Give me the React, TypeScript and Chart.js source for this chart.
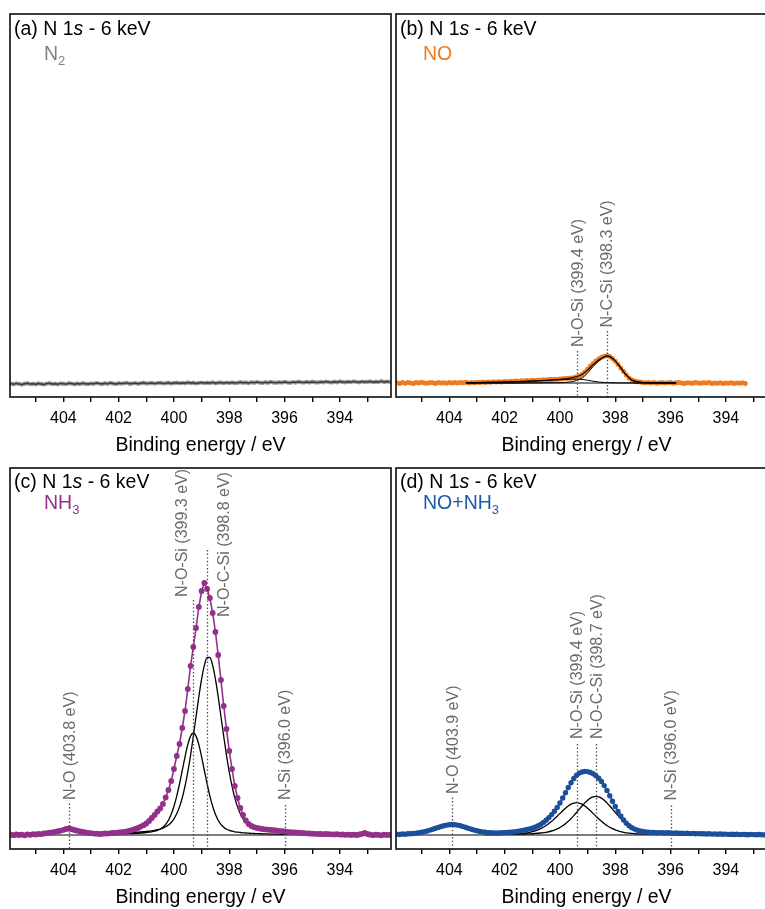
import React, { useEffect, useRef } from 'react';
import { Chart, registerables } from 'chart.js';

Chart.register(...registerables);

const FONT = '"Liberation Sans", Arial, Helvetica, sans-serif';

// ---------------- DATA ----------------
// Binding energies (eV) of the measured spectra (0.1 eV step)
const ENERGY = [
  405.9, 405.8, 405.7, 405.6, 405.5, 405.4, 405.3, 405.2, 405.1, 405.0,
  404.9, 404.8, 404.7, 404.6, 404.5, 404.4, 404.3, 404.2, 404.1, 404.0,
  403.9, 403.8, 403.7, 403.6, 403.5, 403.4, 403.3, 403.2, 403.1, 403.0,
  402.9, 402.8, 402.7, 402.6, 402.5, 402.4, 402.3, 402.2, 402.1, 402.0,
  401.9, 401.8, 401.7, 401.6, 401.5, 401.4, 401.3, 401.2, 401.1, 401.0,
  400.9, 400.8, 400.7, 400.6, 400.5, 400.4, 400.3, 400.2, 400.1, 400.0,
  399.9, 399.8, 399.7, 399.6, 399.5, 399.4, 399.3, 399.2, 399.1, 399.0,
  398.9, 398.8, 398.7, 398.6, 398.5, 398.4, 398.3, 398.2, 398.1, 398.0,
  397.9, 397.8, 397.7, 397.6, 397.5, 397.4, 397.3, 397.2, 397.1, 397.0,
  396.9, 396.8, 396.7, 396.6, 396.5, 396.4, 396.3, 396.2, 396.1, 396.0,
  395.9, 395.8, 395.7, 395.6, 395.5, 395.4, 395.3, 395.2, 395.1, 395.0,
  394.9, 394.8, 394.7, 394.6, 394.5, 394.4, 394.3, 394.2, 394.1, 394.0,
  393.9, 393.8, 393.7, 393.6, 393.5, 393.4, 393.3, 393.2, 393.1, 393.0,
  392.9, 392.8, 392.7, 392.6, 392.5, 392.4, 392.3, 392.2,
];

// Intensities (arb. units)
const N2_INTENSITY = [
  -0.6, -1.2, -0.4, -0.9, -1.5, -0.7, -0.3, -1.1, -0.8, -1.3,
  -0.5, -0.9, -1.4, -0.6, -0.2, -1.0, -0.7, -1.2, -0.4, -0.8,
  -1.1, -0.3, -0.6, -1.3, -0.5, -0.9, -0.2, -0.7, -1.0, -0.4,
  -0.8, -0.1, -0.6, -1.0, -0.3, -0.7, 0.0, -0.5, -0.9, -0.2,
  -0.6, -0.3, 0.1, -0.7, -0.4, -0.1, -0.8, -0.2, 0.2, -0.5,
  -0.3, 0.0, -0.6, -0.1, 0.3, -0.4, -0.2, 0.2, -0.5, 0.0,
  0.3, -0.3, 0.1, -0.2, 0.5, -0.1, 0.2, -0.4, 0.1, 0.4,
  -0.1, 0.3, 0.0, 0.6, -0.2, 0.2, 0.5, -0.1, 0.4, 0.1,
  0.6, 0.0, 0.3, 0.8, 0.2, 0.5, -0.1, 0.7, 0.3, 0.9,
  0.4, 0.1, 0.7, 0.3, 1.0, 0.5, 0.2, 0.8, 0.4, 1.1,
  0.6, 0.3, 0.9, 0.5, 1.2, 0.7, 0.4, 1.0, 0.6, 1.3,
  0.8, 0.5, 1.1, 0.7, 1.4, 0.9, 0.6, 1.2, 0.8, 1.5,
  1.0, 0.7, 1.3, 0.9, 1.6, 1.1, 0.8, 1.4, 1.0, 1.2,
  1.5, 0.9, 1.3, 1.1, 1.7, 1.0, 1.4, 1.2,
];

const NO_INTENSITY = [
  0.3, -0.4, 0.5, -0.2, 0.6, 0.0, -0.5, 0.4, -0.1, 0.7,
  0.1, -0.3, 0.5, 0.2, -0.4, 0.6, 0.0, 0.3, -0.2, 0.5,
  0.1, 0.6, -0.1, 0.4, 0.2, 0.7, 0.1, 0.5, 0.3, 0.8,
  0.4, 0.9, 0.6, 1.0, 0.7, 1.2, 0.9, 1.3, 1.1, 1.6,
  1.3, 1.8, 1.5, 2.0, 1.8, 2.3, 2.0, 2.5, 2.3, 2.7,
  2.6, 3.0, 2.8, 3.3, 3.1, 3.5, 3.4, 3.8, 3.7, 4.1,
  4.2, 4.4, 4.7, 4.9, 5.3, 5.9, 6.9, 8.6, 11.0, 14.0,
  17.0, 19.6, 22.0, 24.1, 25.8, 26.8, 27.2, 26.6, 24.6, 21.8,
  18.4, 14.9, 11.4, 8.0, 5.0, 3.1, 2.0, 1.3, 0.9, 0.6,
  0.3, 0.6, 0.1, 0.4, -0.2, 0.3, 0.5, -0.1, 0.2, 0.4,
  -0.3, 0.2, 0.5, 0.0, -0.4, 0.3, 0.1, -0.2, 0.4, 0.0,
  -0.3, 0.2, -0.1, 0.4, -0.4, 0.1, -0.2, 0.3, -0.5, 0.0,
  -0.2, 0.3, -0.4, 0.1, -0.3, 0.2, -0.5,
];

const NH3_INTENSITY = [
  0.3, -0.2, 0.5, 0.0, 0.4, -0.3, 0.6, 0.2, 0.8, 0.5,
  1.0, 0.9, 1.5, 1.8, 2.3, 2.6, 3.2, 3.8, 4.4, 5.2,
  6.0, 6.5, 5.8, 5.0, 4.3, 3.6, 3.0, 2.6, 2.2, 1.8,
  1.4, 1.3, 1.0, 1.2, 1.5, 1.4, 1.8, 2.0, 2.2, 2.5,
  2.8, 3.2, 3.7, 4.4, 5.2, 6.0, 7.0, 8.4, 9.8, 11.5,
  14, 17, 20, 23.5, 26.5, 31, 37.5, 45, 54, 66,
  79, 91, 107, 124, 146, 169, 188, 207, 228, 244,
  252, 246, 237, 222, 203, 180, 155, 129, 106, 84,
  66, 49, 37, 27, 20, 14.5, 11, 9, 7.8, 7,
  6.5, 6, 5.6, 5.4, 5.1, 4.9, 4.6, 4.2, 3.8, 3.5,
  3.2, 2.9, 2.7, 2.5, 2.3, 2.0, 1.8, 1.7, 1.5, 1.3,
  1.2, 1.1, 1.0, 0.9, 1.0, 0.8, 0.7, 0.6, 0.8, 0.4,
  0.5, 0.2, 0.4, 0.1, 0.3, 0.0, 0.5, 1.2, 2.0, 1.0,
  0.3, -0.2, 0.4, 0.1, -0.3, 0.3, 0.0, 0.2,
];

const NONH3_INTENSITY = [
  0.8, 0.5, 1.0, 0.7, 1.2, 1.3, 1.5, 1.9, 2.2, 2.7,
  3.4, 4.0, 4.9, 5.8, 6.7, 7.6, 8.5, 9.2, 9.9, 10.3,
  10.5, 10.3, 9.9, 9.2, 8.4, 7.5, 6.6, 5.7, 4.9, 4.2,
  3.6, 3.1, 2.7, 2.4, 2.2, 2.1, 2.0, 2.1, 2.2, 2.4,
  2.5, 2.8, 3.0, 3.4, 3.8, 4.3, 4.9, 5.5, 6.1, 6.8,
  7.8, 9.0, 10.5, 12.5, 14.8, 17.4, 20.4, 23.8, 27.6, 32.0,
  37.0, 42.3, 47.5, 52.3, 56.5, 59.8, 61.9, 63.1, 63.6, 63.4,
  62.6, 61.2, 59.3, 56.8, 53.5, 49.4, 44.6, 39.3, 33.8, 28.5,
  23.5, 19.0, 15.0, 11.8, 9.2, 7.3, 5.9, 4.8, 4.0, 3.5,
  3.1, 2.8, 2.6, 2.5, 2.3, 2.4, 2.2, 2.1, 2.2, 2.0,
  1.9, 2.0, 1.7, 1.8, 1.6, 1.7, 1.4, 1.6, 1.3, 1.4,
  1.2, 1.3, 1.0, 1.2, 0.9, 1.1, 0.8, 1.0, 0.7, 0.9,
  0.6, 0.8, 0.5, 0.7, 0.4, 0.6, 0.5, 0.3, 0.6, 0.4,
  0.2, 0.5, 0.3, 0.1, 0.4, 0.2, 0.3, 0.1,
];

// ---- fitted components, panel (b) NO ----
const FIT_E_B = [403.4, 403.0, 402.5, 402.0, 401.5, 401.0, 400.5, 400.2, 400.0, 399.8, 399.6, 399.4, 399.2, 399.0,
  398.8, 398.6, 398.4, 398.3, 398.2, 398.0, 397.8, 397.6, 397.4, 397.2, 397.0, 396.6, 396.0, 395.8];
const FIT_B_NOSI = [0.2, 0.4, 0.7, 1.0, 1.4, 1.9, 2.5, 3.0, 3.3, 3.6, 3.8, 3.9, 3.6, 2.8,
  1.8, 1.0, 0.5, 0.4, 0.3, 0.15, 0.1, 0.05, 0.05, 0, 0, 0, 0, 0];
const FIT_B_NCSI = [0, 0, 0, 0, 0, 0.1, 0.2, 0.3, 0.3, 0.6, 1.2, 2.5, 5.0, 10.0,
  16.5, 22.0, 25.8, 26.7, 26.2, 22.0, 15.0, 7.8, 3.0, 1.2, 0.5, 0.15, 0.05, 0];
const FIT_B_ENVELOPE = [0.2, 0.4, 0.7, 1.0, 1.4, 2.0, 2.7, 3.3, 3.6, 4.2, 5.0, 6.4, 8.6, 12.8,
  18.3, 23.0, 26.3, 27.1, 26.5, 22.15, 15.1, 7.85, 3.05, 1.2, 0.5, 0.15, 0.05, 0];
const BG_E_B = [403.4, 395.8];
const BG_B = [0, 0];

// ---- fitted components, panel (c) NH3 ----
const FIT_E_C = [402.6, 402.2, 401.8, 401.6, 401.4, 401.2, 401.0,
  400.8, 400.7, 400.6, 400.5, 400.4, 400.3, 400.2, 400.1, 400.0,
  399.9, 399.8, 399.7, 399.6, 399.5, 399.4, 399.3, 399.2, 399.1, 399.0,
  398.9, 398.8, 398.7, 398.6, 398.5, 398.4, 398.3, 398.2, 398.1, 398.0,
  397.9, 397.8, 397.7, 397.6, 397.5, 397.4, 397.3, 397.2, 397.1, 397.0,
  396.9, 396.8, 396.7, 396.5, 396.3, 396.1, 395.9, 395.7, 395.3, 394.9];
const FIT_C_NOCSI = [1.3, 1.6, 2.0, 2.3, 2.6, 3.0, 3.5,
  4.2, 4.7, 5.3, 6.0, 6.9, 8.2, 10.0, 12.5, 16.2,
  21.2, 28.1, 37.1, 48.8, 63.0, 79.7, 98.6, 118.5, 138.3, 155.9,
  169.6, 177.5, 177.5, 169.6, 155.9, 138.3, 118.5, 98.6, 79.7, 63.0,
  48.8, 37.1, 28.1, 21.2, 16.2, 12.5, 10.0, 8.2, 6.9, 6.0,
  5.3, 4.7, 4.2, 3.5, 3.0, 2.6, 2.3, 2.0, 1.6, 1.3];
const FIT_C_NOSI = [0.7, 0.9, 1.2, 1.4, 1.6, 2.0, 2.5,
  3.2, 3.8, 4.6, 5.8, 7.8, 10.6, 14.8, 20.7, 28.7,
  38.9, 51.0, 64.5, 78.1, 90.3, 98.9, 102.0, 98.9, 90.3, 78.1,
  64.5, 51.0, 38.9, 28.7, 20.7, 14.8, 10.6, 7.8, 5.8, 4.6,
  3.8, 3.2, 2.8, 2.5, 2.2, 2.0, 1.8, 1.6, 1.5, 1.4,
  1.3, 1.2, 1.1, 0.9, 0.8, 0.75, 0.65, 0.6, 0.5, 0.4];

// ---- fitted components, panel (d) NO+NH3 ----
const FIT_E_D = [402.7, 402.3, 401.9, 401.5, 401.3, 401.1, 400.9, 400.7, 400.5, 400.3,
  400.2, 400.1, 400.0, 399.9, 399.8, 399.7, 399.6, 399.5, 399.4, 399.3, 399.2, 399.1, 399.0,
  398.9, 398.8, 398.7, 398.6, 398.5, 398.4, 398.3, 398.2, 398.1, 398.0, 397.9, 397.8, 397.7,
  397.5, 397.3, 397.1, 396.9, 396.7, 396.3, 395.9, 395.5, 395.1, 394.7];
const FIT_D_NOCSI = [0.45, 0.55, 0.7, 0.9, 1.0, 1.2, 1.5, 2.0, 2.7, 4.0,
  4.9, 6.1, 7.5, 9.3, 11.3, 13.7, 16.4, 19.4, 22.5, 25.8, 29.0, 32.1, 34.8,
  36.9, 38.2, 38.7, 38.2, 36.9, 34.8, 32.1, 29.0, 25.8, 22.5, 19.4, 16.4, 13.7,
  9.3, 6.1, 4.0, 2.7, 2.0, 1.2, 0.9, 0.7, 0.55, 0.45];
const FIT_D_NOSI = [0.55, 0.7, 0.9, 1.4, 1.9, 2.7, 4.1, 6.3, 9.5, 13.7,
  16.2, 18.8, 21.5, 24.2, 26.8, 29.0, 30.8, 31.9, 32.3, 31.9, 30.8, 29.0, 26.8,
  24.2, 21.5, 18.8, 16.2, 13.7, 11.4, 9.5, 7.7, 6.3, 5.1, 4.1, 3.4, 2.7,
  1.9, 1.4, 1.1, 0.9, 0.8, 0.6, 0.5, 0.4, 0.35, 0.3];
const FIT_E_D_NO = [405.9, 405.5, 405.1, 404.9, 404.7, 404.5, 404.3, 404.1, 403.9,
  403.7, 403.5, 403.3, 403.1, 402.9, 402.7, 402.3, 401.9];
const FIT_D_NO = [0.6, 0.95, 1.9, 2.8, 4.15, 5.95, 7.85, 9.4, 10.0,
  9.4, 7.85, 5.95, 4.15, 2.8, 1.9, 0.95, 0.6];
const BG_E_FULL = [405.93, 392.15];
const BG_FULL = [0, 0];

// ---- peak annotations ----
const ANN_B_LABELS = ['N-O-Si (399.4 eV)', 'N-C-Si (398.3 eV)'];
const ANN_B_ENERGY = [399.4, 398.3];
const ANN_C_LABELS = ['N-O (403.8 eV)', 'N-O-Si (399.3 eV)', 'N-O-C-Si (398.8 eV)', 'N-Si (396.0 eV)'];
const ANN_C_ENERGY = [403.8, 399.3, 398.8, 396.0];
const ANN_D_LABELS = ['N-O (403.9 eV)', 'N-O-Si (399.4 eV)', 'N-O-C-Si (398.7 eV)', 'N-Si (396.0 eV)'];
const ANN_D_ENERGY = [403.9, 399.4, 398.7, 396.0];

const X_MIN = 392.15;
const X_MAX = 405.93;
const X_TITLE = 'Binding energy / eV';

// ---------------- STYLE / LAYOUT ----------------
const C_N2_LINE = '#3a3a3a';
const C_N2_PT = '#9a9a9a';
const C_NO = '#f07a1e';
const C_NH3 = '#93308a';
const C_MIX = '#1b4f9b';
const C_MIX_TXT = '#1f5aa8';
const C_N2_TXT = '#808080';
const ANN_COLOR = '#6a6a6a';
const PAD = 10;
const AXIS_H = 60;

const pts = (xs: number[], ys: number[]) => ys.map((y, i) => ({ x: xs[i], y }));

const dataSet = (xs: number[], ys: number[], color: string, radius: number, order: number, lineW = 1.4) => ({
  data: pts(xs, ys),
  showLine: lineW > 0,
  borderColor: color,
  borderWidth: lineW,
  pointRadius: radius,
  pointBackgroundColor: color,
  pointBorderWidth: 0,
  order,
});

const fitSet = (xs: number[], ys: number[], order: number, w = 1.2) => ({
  data: pts(xs, ys),
  showLine: true,
  borderColor: '#000',
  borderWidth: w,
  pointRadius: 0,
  cubicInterpolationMode: 'monotone',
  order,
});

type Ann = { label: string; e: number; lineTop: number; textStart: number; textE: number };

const annList = (labels: string[], energies: number[], lineTops: number[], textStarts: number[], textShift: number[]): Ann[] =>
  labels.map((label, i) => ({ label, e: energies[i], lineTop: lineTops[i], textStart: textStarts[i], textE: energies[i] + textShift[i] }));

const PANELS = [
  {
    key: 'a', tag: '(a)', left: 10, top: 14, h: 383, row: 0, speciesDx: 34,
    species: [['N', false], ['2', true]], speciesColor: C_N2_TXT,
    datasets: [
      dataSet(ENERGY, N2_INTENSITY, C_N2_LINE, 0, 0, 1.5),
      dataSet(ENERGY, N2_INTENSITY, C_N2_PT, 2.2, 1, 0),
    ],
    anns: [] as Ann[],
  },
  {
    key: 'b', tag: '(b)', left: 396, top: 14, h: 383, row: 0, speciesDx: 27,
    species: [['NO', false]], speciesColor: C_NO,
    datasets: [
      fitSet(FIT_E_B, FIT_B_ENVELOPE, 0, 1.1),
      fitSet(FIT_E_B, FIT_B_NOSI, 0, 1.0),
      fitSet(FIT_E_B, FIT_B_NCSI, 0, 1.0),
      fitSet(BG_E_B, BG_B, 0, 1.0),
      dataSet(ENERGY.slice(0, NO_INTENSITY.length), NO_INTENSITY, C_NO, 2.5, 1, 1.6),
    ],
    anns: annList(ANN_B_LABELS, ANN_B_ENERGY, [32, 52], [36, 55.5], [-0.06, -0.03]),
  },
  {
    key: 'c', tag: '(c)', left: 10, top: 468, h: 381, row: 1, speciesDx: 34,
    species: [['NH', false], ['3', true]], speciesColor: C_NH3,
    datasets: [
      dataSet(ENERGY, NH3_INTENSITY, C_NH3, 2.9, 0, 1.6),
      fitSet(FIT_E_C, FIT_C_NOCSI, 1, 1.3),
      fitSet(FIT_E_C, FIT_C_NOSI, 1, 1.3),
      fitSet(BG_E_FULL, BG_FULL, 2, 1.1),
    ],
    anns: annList(ANN_C_LABELS, ANN_C_ENERGY, [31.5, 235, 285, 30], [35, 238, 218, 35], [-0.05, 0.37, -0.63, -0.04]),
  },
  {
    key: 'd', tag: '(d)', left: 396, top: 468, h: 381, row: 1, speciesDx: 27,
    species: [['NO+NH', false], ['3', true]], speciesColor: C_MIX_TXT,
    datasets: [
      dataSet(ENERGY, NONH3_INTENSITY, C_MIX, 2.7, 0, 1.6),
      fitSet(FIT_E_D, FIT_D_NOCSI, 1, 1.3),
      fitSet(FIT_E_D, FIT_D_NOSI, 1, 1.3),
      fitSet(FIT_E_D_NO, FIT_D_NO, 1, 1.3),
      fitSet(BG_E_FULL, BG_FULL, 2, 1.1),
    ],
    anns: annList(ANN_D_LABELS, ANN_D_ENERGY, [37.5, 91, 91, 29.5], [41, 96, 96, 34.5], [-0.05, -0.04, -0.05, -0.04]),
  },
];

function makeDecor(p: any) {
  return {
    id: 'decor_' + p.key,
    afterDatasetsDraw(chart: any) {
      const { ctx, chartArea: ca, scales } = chart;
      const xs = scales.x;
      const ys = scales.y;
      ctx.save();
      // dotted guide lines and rotated labels
      for (const a of p.anns as Ann[]) {
        const lx = Math.round(xs.getPixelForValue(a.e)) + 0.5;
        ctx.beginPath();
        ctx.setLineDash([1.4, 2.2]);
        ctx.lineWidth = 1.3;
        ctx.strokeStyle = '#4a4a4a';
        ctx.moveTo(lx, ys.getPixelForValue(a.lineTop));
        ctx.lineTo(lx, ca.bottom);
        ctx.stroke();
        ctx.setLineDash([]);
        ctx.save();
        ctx.translate(xs.getPixelForValue(a.textE), ys.getPixelForValue(a.textStart));
        ctx.rotate(-Math.PI / 2);
        ctx.font = `16px ${FONT}`;
        ctx.fillStyle = ANN_COLOR;
        ctx.textAlign = 'left';
        ctx.textBaseline = 'middle';
        ctx.fillText(a.label, 0, 0);
        ctx.restore();
      }
      // frame
      ctx.lineWidth = 1.7;
      ctx.strokeStyle = '#1a1a1a';
      ctx.strokeRect(ca.left, ca.top, ca.right - ca.left, ca.bottom - ca.top);
      // title
      const tx = ca.left + 4;
      const ty = ca.top + (p.row === 0 ? 21 : 19.5);
      ctx.textAlign = 'left';
      ctx.textBaseline = 'alphabetic';
      ctx.fillStyle = '#000';
      const t1 = `${p.tag} N 1`;
      ctx.font = `19.5px ${FONT}`;
      ctx.fillText(t1, tx, ty);
      let w = ctx.measureText(t1).width;
      ctx.font = `italic 19.5px ${FONT}`;
      ctx.fillText('s', tx + w, ty);
      w += ctx.measureText('s').width;
      ctx.font = `19.5px ${FONT}`;
      ctx.fillText(' - 6 keV', tx + w, ty);
      // species label
      let sx = ca.left + p.speciesDx;
      const sy = ca.top + (p.row === 0 ? 45.5 : 41);
      ctx.fillStyle = p.speciesColor;
      for (const [txt, sub] of p.species) {
        ctx.font = sub ? `13px ${FONT}` : `19.5px ${FONT}`;
        ctx.fillText(txt, sx, sub ? sy + 5 : sy);
        sx += ctx.measureText(txt).width;
      }
      ctx.restore();
    },
  };
}

function Panel({ p }: { p: any }) {
  const ref = useRef<HTMLCanvasElement>(null);
  useEffect(() => {
    if (!ref.current) return;
    const chart = new Chart(ref.current, {
      type: 'scatter',
      data: { datasets: p.datasets },
      options: {
        responsive: false,
        animation: false,
        devicePixelRatio: 1,
        events: [],
        layout: { padding: { left: PAD, right: PAD, top: PAD, bottom: 0 } },
        plugins: { legend: { display: false }, tooltip: { enabled: false } },
        scales: {
          x: {
            type: 'linear',
            reverse: true,
            min: X_MIN,
            max: X_MAX,
            afterFit: (s: any) => { s.height = AXIS_H; },
            ticks: {
              stepSize: 1,
              autoSkip: false,
              includeBounds: false,
              maxRotation: 0,
              minRotation: 0,
              padding: 7,
              color: '#000',
              font: { family: FONT, size: 16 },
              callback: (v: any) => {
                const r = Math.round(Number(v));
                return Math.abs(Number(v) - r) < 1e-6 && r % 2 === 0 ? String(r) : '';
              },
            },
            grid: { drawOnChartArea: false, drawTicks: true, tickLength: 5, color: '#000', lineWidth: 1.4 },
            border: { display: false },
            title: { display: true, text: X_TITLE, color: '#000', font: { family: FONT, size: 19.5 }, padding: 0 },
          },
          y: { display: false, min: -14, max: p.h - 14 },
        },
      } as any,
      plugins: [makeDecor(p)],
    } as any);
    return () => chart.destroy();
  }, [p]);
  const w = 381 + 2 * PAD;
  const h = PAD + p.h + AXIS_H;
  return (
    <canvas
      ref={ref}
      width={w}
      height={h}
      style={{ position: 'absolute', left: p.left - PAD, top: p.top - PAD, width: w, height: h }}
    />
  );
}

export default function App() {
  return (
    <div style={{ position: 'absolute', left: 0, top: 0, width: 765, height: 909, overflow: 'hidden', background: '#fff' }}>
      {PANELS.map((p) => (
        <Panel key={p.key} p={p} />
      ))}
    </div>
  );
}
